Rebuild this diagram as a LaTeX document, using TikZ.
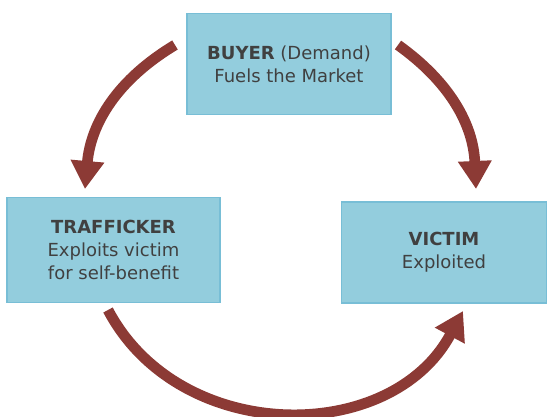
\documentclass[tikz,border=0pt]{standalone}
\usepackage{fontspec}
\setmainfont{DejaVu Sans}
\usetikzlibrary{arrows.meta}
\definecolor{boxblue}{RGB}{147,205,221}
\definecolor{boxline}{RGB}{120,190,214}
\definecolor{arrowred}{RGB}{140,58,53}
\definecolor{textgray}{RGB}{64,64,64}
\begin{document}
\begin{tikzpicture}[x=0.75pt, y=0.75pt,
    box/.style={draw=boxline, line width=1.2pt, fill=boxblue, text=textgray,
      align=center, font=\fontsize{13.5}{17}\selectfont, inner sep=0pt},
    cyclearrow/.style={draw=arrowred, line width=8pt,
      -{Triangle[width=24pt, length=21pt]}}]
    \useasboundingbox (0,0) rectangle (550,417);

    % Boxes
    \node[box, minimum width=153pt, minimum height=76pt] (buyer) at (289,353)
      {\textbf{BUYER} (Demand)\\Fuels the Market};
    \node[box, minimum width=160pt, minimum height=79pt] (trafficker) at (113.5,167)
      {\textbf{TRAFFICKER}\\Exploits victim\\ for self-benefit};
    \node[box, minimum width=154pt, minimum height=76pt] (victim) at (444,164.5)
      {\textbf{VICTIM}\\Exploited};

    % Arrow ends
    \coordinate (buyerL) at (175,372);
    \coordinate (traffT) at (85,228);
    \coordinate (buyerR) at (398,372);
    \coordinate (victT) at (476,228);
    \coordinate (traffB) at (108,107);
    \coordinate (victB) at (463,106);

    % Arrows
    \draw[cyclearrow] (buyerL) to[bend right=27] (traffT);
    \draw[cyclearrow] (buyerR) to[bend left=26] (victT);
    \draw[cyclearrow] (traffB) to[bend right=62, looseness=1.1] (victB);
\end{tikzpicture}
\end{document}
